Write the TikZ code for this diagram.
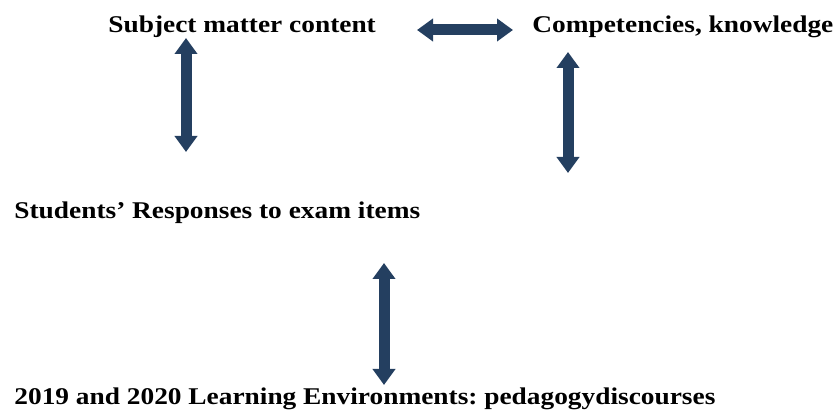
\documentclass[tikz,border=0pt]{standalone}
\usepackage{fontspec}
\setmainfont{Liberation Serif}[FakeStretch=1.14]
\usetikzlibrary{arrows.meta}
\definecolor{navy}{HTML}{243F60}
\frenchspacing
\tikzset{
  txt/.style={anchor=base west, inner sep=0pt, font=\fontsize{12}{14}\selectfont\bfseries},
  dbl/.style={navy, line width=5.5pt, {Triangle[width=11pt,length=8pt]}-{Triangle[width=11pt,length=8pt]}},
}
\begin{document}
\begin{tikzpicture}[x=0.5pt, y=-0.5pt]
\useasboundingbox (0,0) rectangle (835,410);
\node (subj) [txt] at (108,33) {Subject matter content};
\node (comp) [txt] at (532,33) {Competencies, knowledge};
\node (resp) [txt] at (14,219) {Students’ Responses to exam items};
\node (env)  [txt] at (14,405) {2019 and 2020 Learning Environments: pedagogydiscourses};
% arrow ends
\coordinate (h1) at (417,30);
\coordinate (h2) at (513,30);
\coordinate (l1) at (186,38);
\coordinate (l2) at (186,152);
\coordinate (r1) at (568,52);
\coordinate (r2) at (568,173);
\coordinate (b1) at (384,263);
\coordinate (b2) at (384,385);
\draw [dbl] (h1) -- (h2);
\draw [dbl] (l1) -- (l2);
\draw [dbl] (r1) -- (r2);
\draw [dbl] (b1) -- (b2);
\end{tikzpicture}
\end{document}
